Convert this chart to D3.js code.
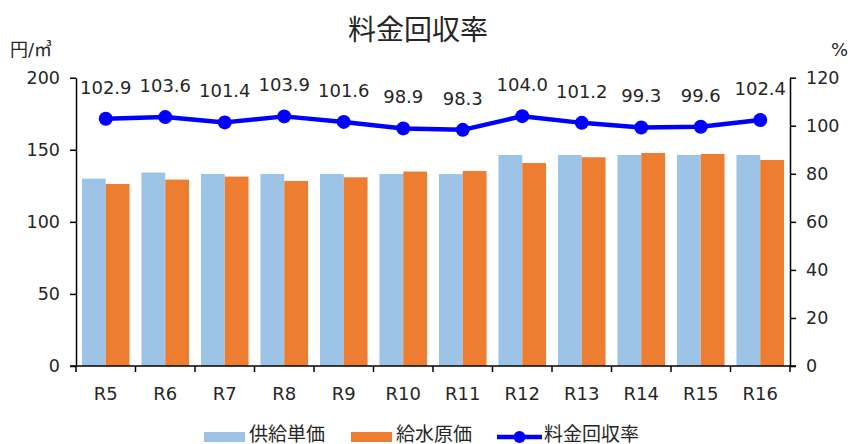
<!DOCTYPE html>
<html>
<head>
<meta charset="utf-8">
<script src="https://cdn.jsdelivr.net/npm/d3@7"></script>
<style>
  body { margin: 0; background: #fff; }
  svg text { font-family: "DejaVu Sans", "Noto Sans CJK JP", sans-serif; fill: #262626; }
</style>
</head>
<body>
<svg id="chart" width="850" height="444"></svg>
<script>
// data
const years = ["R5", "R6", "R7", "R8", "R9", "R10", "R11", "R12", "R13", "R14", "R15", "R16"];
const supplyPrice = [130.0, 134.2, 133.2, 133.2, 133.2, 133.2, 133.2, 146.4, 146.4, 146.4, 146.4, 146.4];
const waterCost = [126.3, 129.3, 131.4, 128.4, 130.9, 134.9, 135.3, 140.8, 144.8, 147.8, 147.1, 142.9];
const recoveryRate = [102.9, 103.6, 101.4, 103.9, 101.6, 98.9, 98.3, 104.0, 101.2, 99.3, 99.6, 102.4];
const leftTicks = [0, 50, 100, 150, 200];
const rightTicks = [0, 20, 40, 60, 80, 100, 120];
const seriesNames = ["供給単価", "給水原価", "料金回収率"];

const blue = "#9dc3e6", orange = "#ed7d31", lineBlue = "#0000ff";

const svg = d3.select("#chart");
const plotL = 76, plotR = 790, plotT = 77.7, plotB = 366;

// category bands, bars take the middle 80% of each
const xCat = d3.scaleBand().domain(years).range([plotL, plotR]);
const yL = d3.scaleLinear().domain([0, 200]).range([plotB, plotT]);
const yR = d3.scaleLinear().domain([0, 120]).range([plotB, plotT]);
const xSub = d3.scaleBand().domain([0, 1]).range([0, xCat.bandwidth() * 0.8]);

// bars
const g = svg.append("g");
years.forEach((yr, i) => {
    const x0 = xCat(yr) + xCat.bandwidth() * 0.1;
    g.append("rect")
        .attr("x", x0 + xSub(0)).attr("y", yL(supplyPrice[i]))
        .attr("width", xSub.bandwidth()).attr("height", plotB - yL(supplyPrice[i]))
        .attr("fill", blue);
    g.append("rect")
        .attr("x", x0 + xSub(1)).attr("y", yL(waterCost[i]))
        .attr("width", xSub.bandwidth()).attr("height", plotB - yL(waterCost[i]))
        .attr("fill", orange);
});

// axes
const axisL = svg.append("g").attr("transform", `translate(${plotL},0)`)
    .call(d3.axisLeft(yL).tickValues(leftTicks).tickSize(6).tickSizeOuter(0).tickPadding(10));
const axisR = svg.append("g").attr("transform", `translate(${plotR},0)`)
    .call(d3.axisRight(yR).tickValues(rightTicks).tickSize(6).tickSizeOuter(0).tickPadding(10));
[axisL, axisR].forEach(a => {
    a.select(".domain").attr("stroke", "#000").attr("stroke-width", 1.5);
    a.selectAll(".tick line").attr("stroke", "#000").attr("stroke-width", 1.5);
    a.selectAll("text").attr("font-size", 17.5).attr("fill", "#262626")
        .attr("font-family", "DejaVu Sans, sans-serif");
});

// category axis: ticks at category boundaries
const xb = svg.append("g");
xb.append("line").attr("x1", plotL - 6).attr("x2", plotR + 6)
    .attr("y1", plotB).attr("y2", plotB).attr("stroke", "#000").attr("stroke-width", 1.5);
years.concat(["end"]).forEach((yr, i) => {
    const tx = i < years.length ? xCat(yr) : plotR;
    xb.append("line").attr("x1", tx).attr("x2", tx).attr("y1", plotB).attr("y2", plotB + 6)
        .attr("stroke", "#000").attr("stroke-width", 1.5);
});
xb.selectAll("text.cat").data(years).join("text")
    .attr("class", "cat")
    .attr("x", d => xCat(d) + xCat.bandwidth() / 2)
    .attr("y", plotB + 34)
    .attr("text-anchor", "middle").attr("font-size", 18)
    .text(d => d);

// line
const cx = d => xCat(d) + xCat.bandwidth() / 2;
const line = d3.line().x((d, i) => cx(years[i])).y(d => yR(d));
svg.append("path").datum(recoveryRate)
    .attr("d", line).attr("fill", "none")
    .attr("stroke", lineBlue).attr("stroke-width", 4.5).attr("stroke-linejoin", "round");
svg.selectAll("circle.pt").data(recoveryRate).join("circle")
    .attr("class", "pt")
    .attr("cx", (d, i) => cx(years[i])).attr("cy", d => yR(d))
    .attr("r", 7).attr("fill", lineBlue);
svg.selectAll("text.lbl").data(recoveryRate).join("text")
    .attr("class", "lbl")
    .attr("x", (d, i) => cx(years[i])).attr("y", d => yR(d) - 25)
    .attr("text-anchor", "middle").attr("font-size", 18)
    .text(d => d.toFixed(1));

// title and unit labels
svg.append("text").attr("x", 418).attr("y", 40).attr("text-anchor", "middle")
    .attr("font-size", 28).text("料金回収率");
svg.append("text").attr("x", 10).attr("y", 56).attr("font-size", 18).text("円/㎥");
svg.append("text").attr("x", 848).attr("y", 56).attr("text-anchor", "end").attr("font-size", 18).text("%");

// legend
const lg = svg.append("g");
lg.append("rect").attr("x", 204).attr("y", 432).attr("width", 41).attr("height", 10).attr("fill", blue);
lg.append("text").attr("x", 249).attr("y", 441).attr("font-size", 19).text(seriesNames[0]);
lg.append("rect").attr("x", 351).attr("y", 432).attr("width", 41).attr("height", 10).attr("fill", orange);
lg.append("text").attr("x", 396).attr("y", 441).attr("font-size", 19).text(seriesNames[1]);
lg.append("line").attr("x1", 497).attr("x2", 542).attr("y1", 437).attr("y2", 437)
    .attr("stroke", lineBlue).attr("stroke-width", 4.5);
lg.append("circle").attr("cx", 519.5).attr("cy", 437).attr("r", 6).attr("fill", lineBlue);
lg.append("text").attr("x", 544).attr("y", 441).attr("font-size", 19).text(seriesNames[2]);
</script>
</body>
</html>
